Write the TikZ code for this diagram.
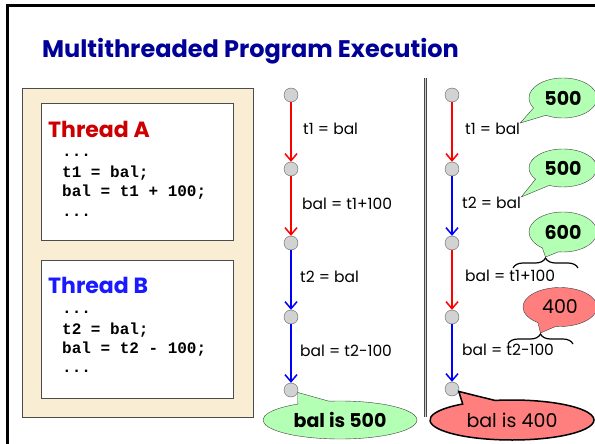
\documentclass[tikz,border=0pt]{standalone}
\usepackage{fontspec}
\setmainfont{Poppins}
\newfontfamily\codefont{Liberation Mono}
\usetikzlibrary{arrows.meta,shapes.callouts,decorations.pathreplacing}

\definecolor{tanbg}{HTML}{F9EDD3}
\definecolor{callgreen}{HTML}{B3FFB3}
\definecolor{callred}{HTML}{FF7F7F}
\definecolor{titleblue}{HTML}{000099}
\definecolor{threadred}{HTML}{CC0000}
\definecolor{threadblue}{HTML}{1A1AFF}

\begin{document}
\begin{tikzpicture}[x=1pt,y=-1pt,
    dot/.style={circle,draw=gray!75!black,fill=gray!35,minimum size=14pt,inner sep=0pt},
    stepred/.style={draw=red,line width=1.5pt,-{Straight Barb[length=7pt,width=12pt]}},
    stepblue/.style={draw=blue,line width=1.5pt,-{Straight Barb[length=7pt,width=12pt]}},
    lbl/.style={anchor=west,inner sep=0pt,font=\fontsize{15.5}{18}\selectfont},
    code/.style={anchor=base west,inner sep=0pt,font=\codefont\bfseries\fontsize{16}{19}\selectfont},
    greencall/.style={ellipse callout,draw=gray!50!black,fill=callgreen,inner sep=0pt,
      callout pointer arc=30,font=\bfseries\fontsize{19}{23}\selectfont},
    redcall/.style={ellipse callout,draw=gray!50!black,fill=callred,inner sep=0pt,
      callout pointer arc=30,font=\fontsize{19}{23}\selectfont},
    curly/.style={decorate,decoration={brace,amplitude=10pt},line width=1.2pt}]
        \useasboundingbox (0,0) rectangle (595,444);

        % Frame and title
        \draw[line width=2.5pt] (7.5,444) -- (7.5,5.5) -- (595,5.5);
        \node[anchor=base west,inner sep=0pt,text=titleblue,font=\bfseries\fontsize{24}{29}\selectfont] (title) at (42,58) {Multithreaded Program Execution};

        % Threads
        \draw[draw=gray!60!black,fill=tanbg] (22,88) rectangle (253,417);
        \draw[draw=gray!60!black,fill=white] (41,103) rectangle (233,240);
        \draw[draw=gray!60!black,fill=white] (41,260) rectangle (233,398);
        \node[anchor=base west,inner sep=0pt,text=threadred,font=\bfseries\fontsize{22}{27}\selectfont] (thA) at (48,137) {Thread A};
        \node[anchor=base west,inner sep=0pt,text=threadblue,font=\bfseries\fontsize{22}{27}\selectfont] (thB) at (48,293) {Thread B};
        \foreach \y/\line [count=\i] in {157/{...}, 177/{t1 = bal;}, 196/{bal = t1 + 100;}, 216/{...}}{
        \node[code] (ca\i) at (62,\y) {\line};
        }
        \foreach \y/\line [count=\i] in {313/{...}, 334/{t2 = bal;}, 353/{bal = t2 - 100;}, 372/{...}}{
        \node[code] (cb\i) at (62,\y) {\line};
        }

        % Order 1
        \foreach \y [count=\i] in {95,169,243,317,390}{
        \node[dot] (m\i) at (291,\y) {};
        }
        \draw[stepred] (m1) -- (m2);
        \draw[stepred] (m2) -- (m3);
        \draw[stepblue] (m3) -- (m4);
        \draw[stepblue] (m4) -- (m5);
        \node[lbl] (ma) at (303,129) {t1 = bal};
        \node[lbl] (mb) at (302,204) {bal = t1+100};
        \node[lbl] (mc) at (300,277) {t2 = bal};
        \node[lbl] (md) at (300,351) {bal = t2-100};

        % Separator
        \draw[draw=gray!55!black,double=gray!40,double distance=1pt,line width=1pt] (425.5,78) -- (425.5,417);

        % Order 2
        \foreach \y [count=\i] in {95,169,243,317,389}{
        \node[dot] (r\i) at (452,\y) {};
        }
        \draw[stepred] (r1) -- (r2);
        \draw[stepblue] (r2) -- (r3);
        \draw[stepred] (r3) -- (r4);
        \draw[stepblue] (r4) -- (r5);
        \node[lbl] (ra) at (465,129) {t1 = bal};
        \node[lbl] (rb) at (462,203) {t2 = bal};
        \node[lbl] (rc) at (465,276) {bal = t1+100};
        \node[lbl] (rd) at (462,350) {bal = t2-100};

        % Braces
        \coordinate (b1l) at (513,268);
        \coordinate (b1r) at (578,268);
        \coordinate (b1t) at (545.5,257);
        \draw[curly] (b1l) -- (b1r);
        \coordinate (b2l) at (508,344);
        \coordinate (b2r) at (573,344);
        \coordinate (b2t) at (540.5,333);
        \draw[curly] (b2l) -- (b2r);

        % Values
        \node[greencall,minimum width=68pt,minimum height=40pt,callout absolute pointer={(ra.north east)}] (v1) at (563,98) {500};
        \node[greencall,minimum width=68pt,minimum height=38pt,callout absolute pointer={(rb.north east)}] (v2) at (563,168) {500};
        \node[greencall,minimum width=68pt,minimum height=40pt,callout absolute pointer={(b1t)}] (v3) at (563,232) {600};
        \node[redcall,minimum width=74pt,minimum height=39pt,callout absolute pointer={(b2t)}] (v4) at (560,307) {400};
        \node[greencall,minimum width=154pt,minimum height=38pt,callout pointer arc=25,callout absolute pointer={(m5.-20)}] (res1) at (340,420) {bal is 500};
        \node[redcall,draw=black,line width=1.5pt,minimum width=164pt,minimum height=40pt,callout pointer arc=25,callout absolute pointer={(r5.-20)}] (res2) at (512,420) {bal is 400};
        \end{tikzpicture}
\end{document}
